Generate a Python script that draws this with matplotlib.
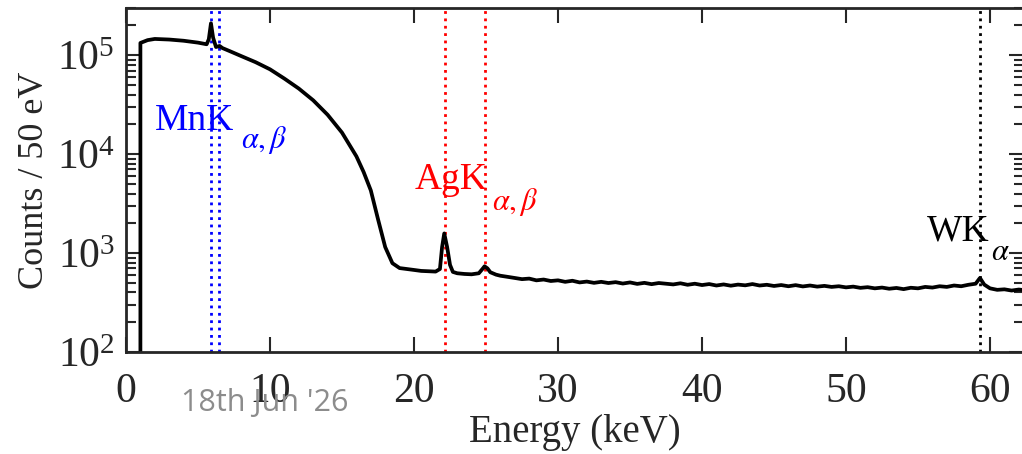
import matplotlib
matplotlib.use('Agg')
import matplotlib.pyplot as plt
from matplotlib.ticker import LogLocator, FixedLocator

plt.rcParams['font.family'] = ['Liberation Serif', 'DejaVu Serif']
plt.rcParams['mathtext.fontset'] = 'stix'

# spectrum (keV, counts per 50 eV)
energy = [1.0, 1.0, 1.5, 2.0, 3.0, 4.0, 5.0, 5.6, 5.75, 5.9, 6.05, 6.25, 6.5, 6.7,
          7.2, 8.0, 9.0, 10.0, 11.0, 12.0, 13.0, 14.0, 15.0, 16.0, 16.5, 17.0,
          17.5, 18.0, 18.5, 19.0, 19.5, 20.0, 20.5, 21.0, 21.5, 21.8, 21.95, 22.1,
          22.3, 22.5, 22.7, 23.0, 23.5, 24.0, 24.5, 24.75, 24.9, 25.1, 25.3, 25.7,
          26.0, 26.5, 27.0, 27.5, 28.0, 28.5, 29.0, 29.5, 30.0, 30.5, 31.0, 31.5,
          32.0, 32.5, 33.0, 33.5, 34.0, 34.5, 35.0, 35.5, 36.0, 36.5, 37.0, 37.5,
          38.0, 38.5, 39.0, 39.5, 40.0, 40.5, 41.0, 41.5, 42.0, 42.5, 43.0, 43.5,
          44.0, 44.5, 45.0, 45.5, 46.0, 46.5, 47.0, 47.5, 48.0, 48.5, 49.0, 49.5,
          50.0, 50.5, 51.0, 51.5, 52.0, 52.5, 53.0, 53.5, 54.0, 54.5, 55.0, 55.5,
          56.0, 56.5, 57.0, 57.5, 58.0, 58.5, 59.0, 59.3, 59.6, 60.0, 60.5, 61.0,
          61.5, 62.0, 62.5]
counts = [100, 1.33e5, 1.42e5, 1.46e5, 1.44e5, 1.40e5, 1.34e5, 1.29e5, 1.45e5, 2.1e5,
          1.5e5, 1.21e5, 1.24e5, 1.18e5,
          1.1e5, 9.8e4, 8.5e4, 7.2e4, 5.8e4, 4.6e4, 3.5e4, 2.5e4, 1.65e4, 9.5e3, 6.6e3, 4.3e3,
          2.2e3, 1.15e3, 790, 705, 690, 675, 660, 655, 650, 690, 1150, 1580,
          1150, 760, 645, 625, 615, 610, 625, 690, 735, 700, 640, 605,
          590, 575, 560, 545, 552, 530, 540, 522, 530, 512, 525, 505,
          515, 500, 512, 498, 508, 492, 505, 488, 500, 485, 498, 490,
          482, 495, 478, 490, 475, 486, 470, 482, 468, 480, 472, 486,
          470, 478, 465, 475, 462, 474, 460, 470, 458, 466, 455, 462,
          450, 458, 445, 452, 440, 448, 436, 444, 432, 446, 440, 455,
          448, 462, 455, 470, 462, 478, 490, 560, 480, 440, 425, 430,
          418, 428, 420]

mn_lines = [5.9, 6.49]
ag_lines = [22.16, 24.94]
w_lines = [59.3]

fig = plt.figure(figsize=(10.22, 4.54), dpi=100)
ax = fig.add_axes([126 / 1022, 1 - 352 / 454, (1024 - 126) / 1022, (352 - 8) / 454])

for e in mn_lines:
    ax.axvline(e, color='#0000ff', linestyle=':', linewidth=2)
for e in ag_lines:
    ax.axvline(e, color='#ff0000', linestyle=':', linewidth=2)
for e in w_lines:
    ax.axvline(e, color='black', linestyle=':', linewidth=2)

ax.plot(energy, counts, color='black', linewidth=2.7)

ax.set_yscale('log')
ax.set_xlim(0, 62.36)
ax.set_ylim(100, 3e5)
ax.xaxis.set_major_locator(FixedLocator([0, 10, 20, 30, 40, 50, 60]))
ax.yaxis.set_major_locator(LogLocator(base=10, numticks=10))
ax.yaxis.set_minor_locator(LogLocator(base=10, subs=range(2, 10), numticks=10))

ax.tick_params(which='both', direction='in', top=True, right=True,
               colors='#262626', labelsize=30, width=1.5)
ax.tick_params(which='major', length=11)
ax.tick_params(which='minor', length=7)
ax.tick_params(axis='x', pad=15)
ax.tick_params(axis='y', pad=8)
for s in ax.spines.values():
    s.set_color('#262626')
    s.set_linewidth(2)

ax.set_xlabel('Energy (keV)', fontsize=28, color='#262626', labelpad=2)
ax.set_ylabel('Counts / 50 eV', fontsize=26, color='#262626', labelpad=4)

# peak labels
ax.text(2.0, 1.75e4, 'MnK', color='#0000ff', fontsize=27, va='baseline')
ax.text(8.0, 1.15e4, r'$\alpha,\beta$', color='#0000ff', fontsize=22, va='baseline')
ax.text(20.05, 4430, 'AgK', color='#ff0000', fontsize=27, va='baseline')
ax.text(25.4, 2700, r'$\alpha,\beta$', color='#ff0000', fontsize=22, va='baseline')
ax.text(55.6, 1350, 'WK', color='black', fontsize=27, va='baseline')
ax.text(60.05, 850, r'$\alpha$', color='black', fontsize=22, va='baseline')

fig.text(265 / 1022, 1 - 403 / 454, "18th Jun '26", family=['Open Sans', 'DejaVu Sans'],
         fontsize=22, color='#8c8c8c', ha='center', va='center')

fig.savefig('out.png', dpi=100)
